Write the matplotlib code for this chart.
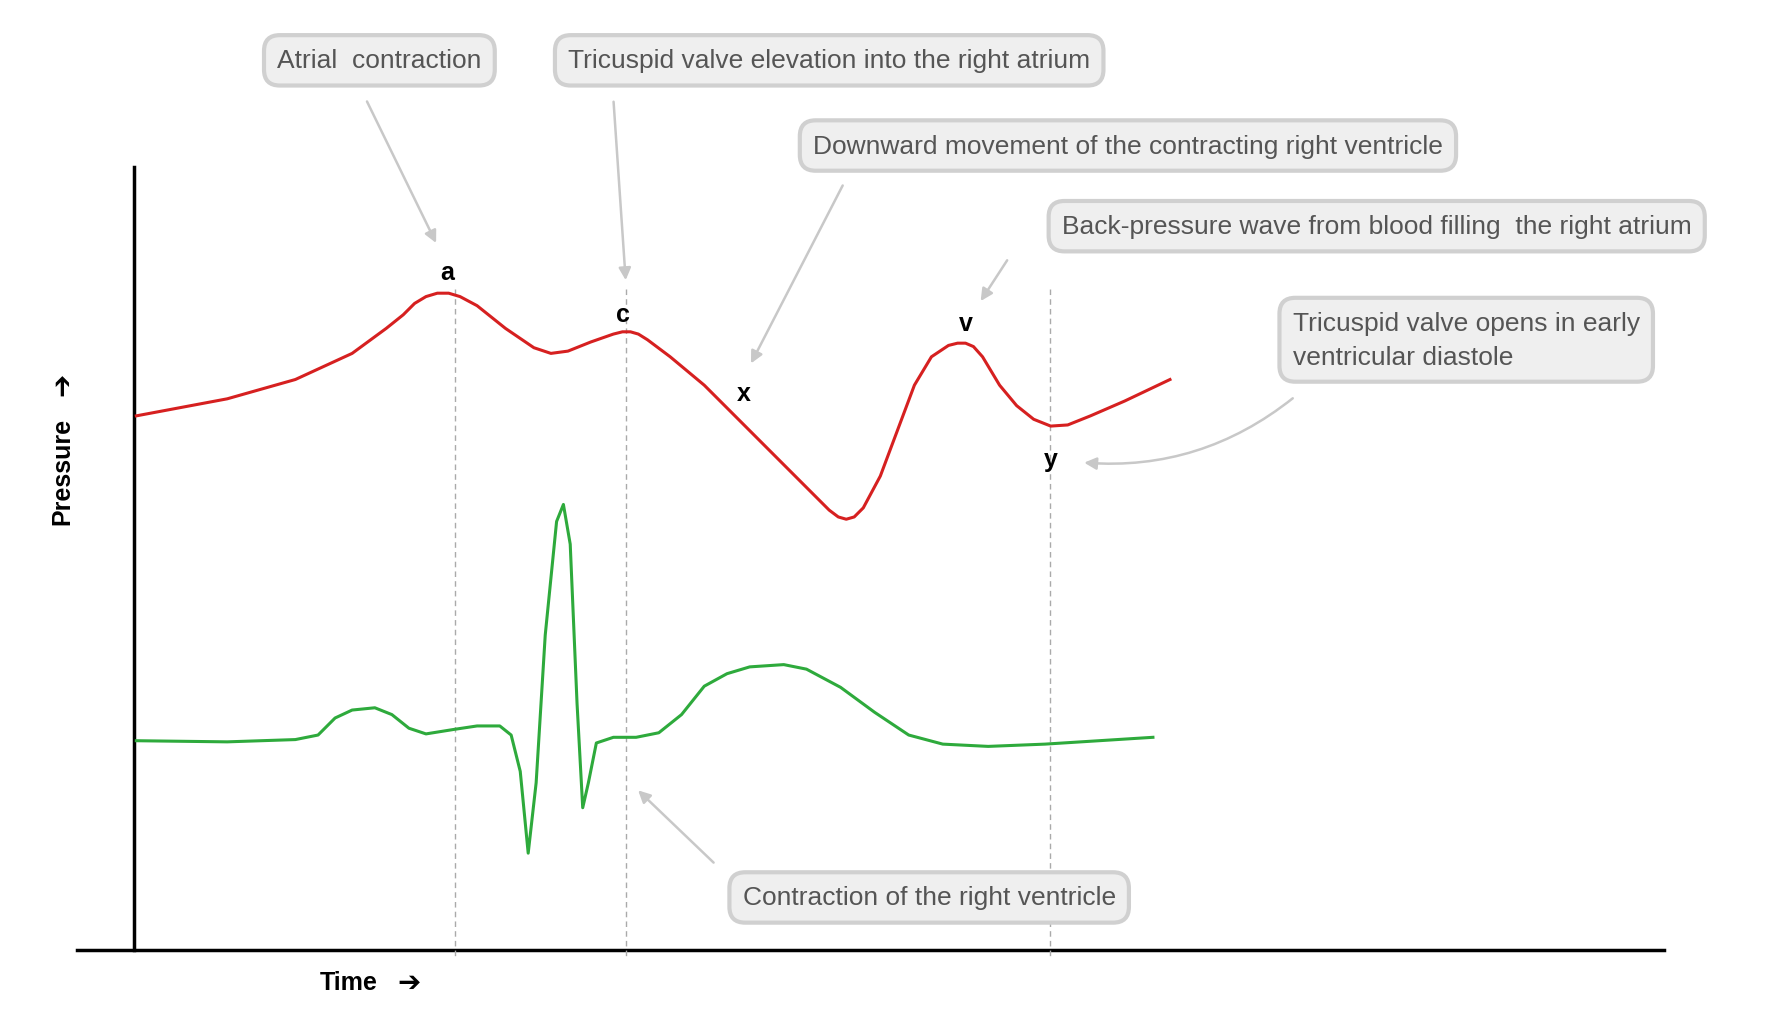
import matplotlib
matplotlib.use("Agg")
import matplotlib.pyplot as plt

plt.rcParams['font.family'] = ['Liberation Sans', 'DejaVu Sans']

red_x = [120,200,260,310,340,355,365,375,385,395,405,420,445,470,485,500,520,540,548,555,562,570,590,620,650,680,710,730,738,745,752,760,775,790,805,820,835,843,850,857,865,880,895,910,925,940,960,990,1030]
red_y = [367,352,335,312,290,278,268,262,259,259,262,270,290,307,312,310,302,295,293,293,295,300,315,340,370,400,430,450,456,458,456,448,420,380,340,315,305,303,303,306,315,340,358,370,376,375,367,354,335]
green_x = [120,200,260,280,295,310,330,345,360,375,400,420,440,450,458,465,472,480,490,496,502,508,513,518,525,540,560,580,600,620,640,660,690,710,740,770,800,830,870,920,1015]
green_y = [653,654,652,648,633,626,624,630,642,647,643,640,640,648,680,752,690,560,460,445,480,620,712,690,655,650,650,646,630,605,594,588,586,590,606,628,648,656,658,656,650]

wave_labels = ['a', 'c', 'x', 'v', 'y']
wave_pos = [(394,240),(548,277),(655,347),(850,285),(925,405)]
dash_x = [401, 551, 924]

notes = ["Atrial  contraction",
         "Tricuspid valve elevation into the right atrium",
         "Downward movement of the contracting right ventricle",
         "Back-pressure wave from blood filling  the right atrium",
         "Tricuspid valve opens in early\nventricular diastole",
         "Contraction of the right ventricle"]
note_pos = [(334,54),(730,54),(993,129),(1212,200),(1138,300),(818,791)]
note_ha = ['center','center','center','center','left','center']
arrow_tip = [(385,217),(551,250),(660,323),(862,268),(952,408),(560,695)]
arrow_tail = [(322,88),(540,88),(743,162),(888,228),(1140,350),(630,762)]
arrow_rad = [0,0,0,0,-0.2,0]

fig = plt.figure(figsize=(17.72,10.2), dpi=100)
ax = fig.add_axes([0,0,1,1])
ax.set_xlim(0,1560); ax.set_ylim(898,0); ax.axis('off')

ax.plot([118,118],[148,837],color='black',lw=2.5)
ax.plot([68,1465],[837,837],color='black',lw=2.5)
for x in dash_x:
    ax.plot([x,x],[255,845],color='#aaaaaa',lw=1,ls=(0,(4,3)))

ax.plot(red_x, red_y, color='#d62020', lw=2.2, solid_joinstyle='round')
ax.plot(green_x, green_y, color='#2eaa3c', lw=2.2, solid_joinstyle='round')

for t,(x,y) in zip(wave_labels, wave_pos):
    ax.text(x,y,t,fontsize=18,fontweight='bold',ha='center',va='center')

for t,(x,y),ha,tip,tail,rad in zip(notes,note_pos,note_ha,arrow_tip,arrow_tail,arrow_rad):
    ax.annotate('', xy=tip, xytext=tail,
                arrowprops=dict(arrowstyle='-|>', color='#c8c8c8', lw=1.8,
                                mutation_scale=18, connectionstyle=f'arc3,rad={rad}'))
    ax.text(x,y,t,fontsize=19,color='#555555',ha=ha,va='center',linespacing=1.5,
            bbox=dict(boxstyle='round,pad=0.5,rounding_size=0.6',fc='#efefef',ec='#d0d0d0',lw=3))

ax.text(55,415,'Pressure',rotation=90,fontsize=18,fontweight='bold',ha='center',va='center')
ax.text(55,338,'➔',rotation=90,fontsize=20,fontweight='bold',ha='center',va='center',family=['DejaVu Sans'])
ax.text(307,865,'Time',fontsize=18,fontweight='bold',ha='center',va='center')
ax.text(360,865,'➔',fontsize=20,ha='center',va='center',family=['DejaVu Sans'])

fig.savefig('out.png', dpi=100)
